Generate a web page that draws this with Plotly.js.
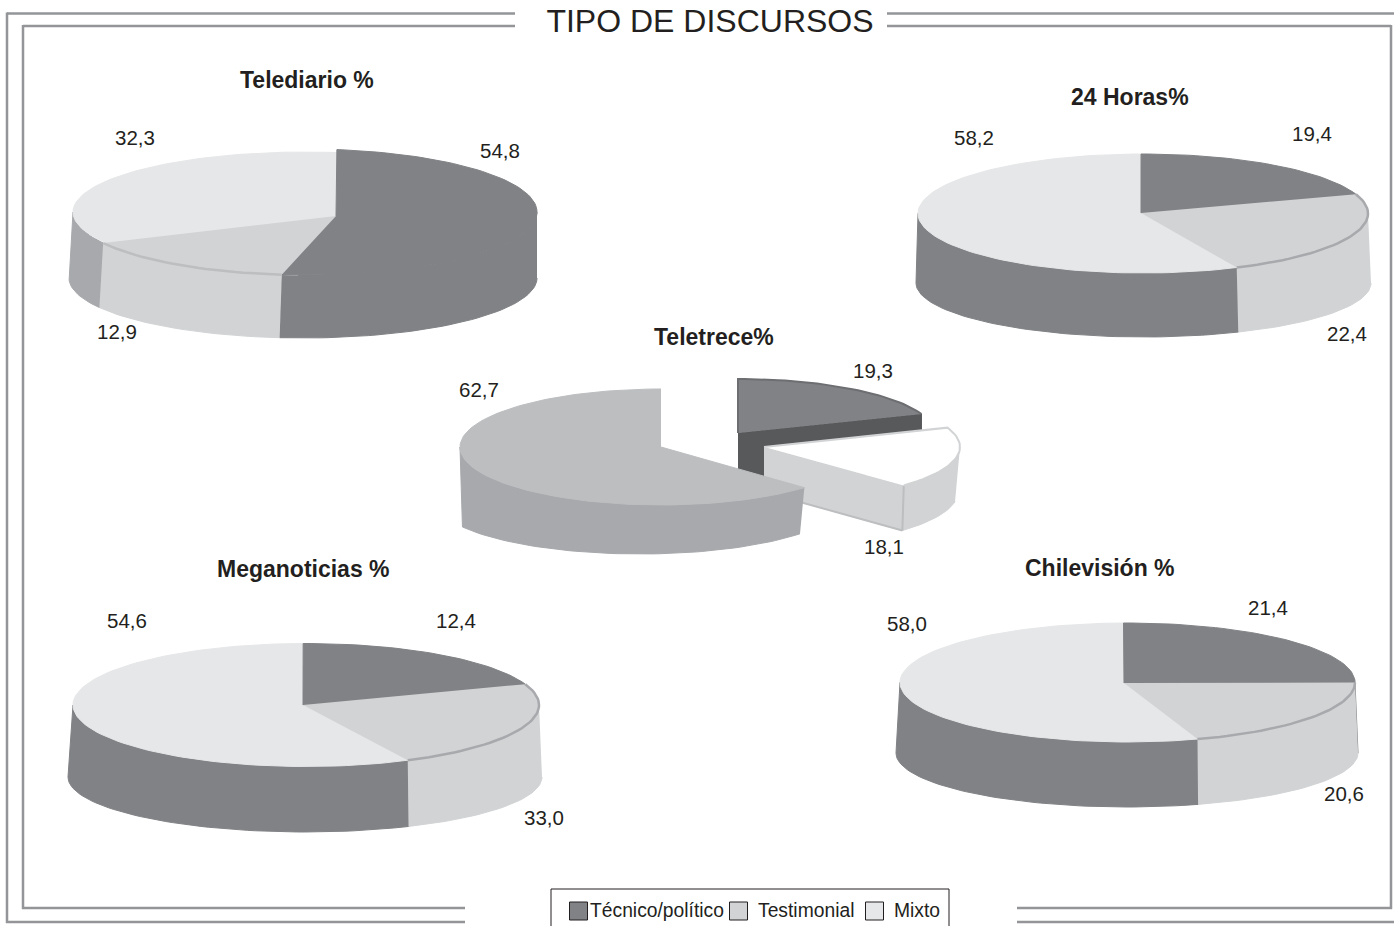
<!DOCTYPE html>
<html>
<head>
<meta charset="utf-8">
<script src="https://cdn.plot.ly/plotly-3.0.1.min.js"></script>
<style>html,body{margin:0;padding:0;background:#fff;overflow:hidden}#chart{width:1394px;height:926px}</style>
</head>
<body>
<div id="chart"></div>
<script>
// ---------- data: printed labels, in the order Técnico/político, Testimonial, Mixto ----------
const categories = ['Técnico/político', 'Testimonial', 'Mixto'];
const telediario   = [54.8, 12.9, 32.3];
const veinticuatro = [19.4, 22.4, 58.2];
const teletrece    = [19.3, 18.1, 62.7];
const meganoticias = [12.4, 33.0, 54.6];
const chilevision  = [21.4, 20.6, 58.0];

// the slices as actually drawn in the picture (they differ from the printed labels)
const telediarioDrawn   = [49.4, 15.2, 35.4];
const veinticuatroDrawn = [19.9, 23.4, 56.7];
const meganoticiasDrawn = [19.7, 23.3, 57.0];
const chilevisionDrawn  = [25.3, 20.0, 54.7];

// ---------- styles and geometry ----------
const C = {dark:'#808285', mid:'#d1d3d4', light:'#e6e7e8', grey:'#a7a9ac', tele:'#bcbec0', deep:'#58595b', rim:'#a7a9ac', ink:'#231f20', frame:'#939598'};
const FONT = '"Liberation Sans", Arial, sans-serif';

const pies = [
  {values:telediarioDrawn, t0:7.9, apex:[336,216], rim:C.tele,
   top:{cx:305,cy:212,rx:232,ry:63}, bottom:{cx:303,cy:278,rx:234,ry:60},
   tops:[C.dark,C.mid,C.light], sides:[C.dark,C.mid,C.grey], topRy:[63,63,60]},
  {values:veinticuatroDrawn, t0:-0.5, apex:[1141,213], rim:C.rim,
   top:{cx:1143,cy:213.5,rx:225,ry:59.5}, bottom:{cx:1143.5,cy:283,rx:227.5,ry:54},
   tops:[C.dark,C.mid,C.light], sides:[C.dark,C.mid,C.dark]},
  {values:meganoticiasDrawn, t0:-0.7, apex:[303,705], rim:C.rim,
   top:{cx:306,cy:705,rx:233,ry:61.5}, bottom:{cx:305,cy:777,rx:237,ry:55},
   tops:[C.dark,C.mid,C.light], sides:[C.dark,C.mid,C.dark]},
  {values:chilevisionDrawn, t0:-1, apex:[1124,683], rim:C.rim,
   top:{cx:1127.5,cy:682.5,rx:227.5,ry:59.5}, bottom:{cx:1127,cy:753,rx:231,ry:54},
   tops:[C.dark,C.mid,C.light], sides:[C.dark,C.mid,C.dark]}
];

const valueLabels = [
  [telediario,   [[500,150],[117,331],[135,137]]],
  [veinticuatro, [[1312,133],[1347,333],[974,137]]],
  [teletrece,    [[873,370],[884,546],[479,389]]],
  [meganoticias, [[456,620],[544,817],[127,620]]],
  [chilevision,  [[1268,607],[1344,793],[907,623]]]
];
const chartTitles = [['Telediario %',307,80],['24 Horas%',1130,97],['Teletrece%',714,337],['Meganoticias %',303,569],['Chilevisión %',1100,568]];

// ---------- helpers ----------
const rad = d => d*Math.PI/180;
function arc(e, a, b, ry){
  const n = Math.max(2, Math.ceil(Math.abs(b-a)/2)), xs=[], ys=[], r = ry||e.ry;
  for(let i=0;i<=n;i++){ const t=rad(a+(b-a)*i/n); xs.push(e.cx+e.rx*Math.sin(t)); ys.push(e.cy-r*Math.cos(t)); }
  return [xs,ys];
}
function poly(xs,ys,fill,line,width){
  return {type:'scatter',mode:'lines',x:xs,y:ys,fill:'toself',fillcolor:fill,hoverinfo:'skip',showlegend:false,
          line:{color:line||fill,width:line?width:1}};
}
function stroke(xs,ys,color,width){
  return {type:'scatter',mode:'lines',x:xs,y:ys,hoverinfo:'skip',showlegend:false,line:{color,width}};
}
function cuts(values,t0){
  const sum = values.reduce((a,b)=>a+b,0); let c=0; const out=[t0];
  values.forEach(v=>{c+=v; out.push(t0+360*c/sum);});
  return out;
}
function sideFace(top,bot,a,b,ba,bb,fill){
  const [x1,y1]=arc(top,a,b), [x2,y2]=arc(bot,bb,ba);
  return poly(x1.concat(x2),y1.concat(y2),fill);
}

const traces=[];
pies.forEach(p=>{
  const k=cuts(p.values,p.t0);
  p.values.forEach((v,i)=>{
    const a=Math.max(k[i],90), b=Math.min(k[i+1],270);
    if(b>a) traces.push(sideFace(p.top,p.bottom,a,b,a,b,p.sides[i]));
  });
  // paint back to front; each wedge runs a little under the next one so no seam shows
  [2,1,0].forEach(i=>{
    const ry=p.topRy?p.topRy[i]:p.top.ry;
    const [x,y]=arc(p.top,i>0?k[i]-4:k[i],k[i+1],ry);
    traces.push(poly([p.apex[0]].concat(x),[p.apex[1]].concat(y),p.tops[i]));
  });
  const [rx,ry]=arc(p.top,k[1],k[2]);
  traces.push(stroke(rx,ry,p.rim,2.5));
});

// Teletrece: an exploded pie, each slice with its own centre
(function(){
  const k=cuts(teletrece,0);
  const darkE={cx:738,cy:433,rx:196,ry:54};
  const [dx,dy]=arc(darkE,k[0],k[1]);
  const ex=dx[dx.length-1], ey=dy[dy.length-1], depth=55;
  traces.push(poly([darkE.cx,ex,ex,darkE.cx],[darkE.cy,ey,ey+depth,darkE.cy+depth],C.deep));
  traces.push(poly([darkE.cx].concat(dx),[darkE.cy].concat(dy),C.dark,'#6d6e71',2));

  const whiteE={cx:764,cy:447,rx:196,ry:55}, whiteB={cx:764,cy:492,rx:194,ry:55};
  traces.push(sideFace(whiteE,whiteB,90,k[2],100,k[2],C.mid));
  const [wx,wy]=arc(whiteE,k[1],k[2]);
  const fx=wx[wx.length-1], fy=wy[wy.length-1];
  const [bx,by]=arc(whiteB,k[2],k[2]+1);
  traces.push(poly([whiteE.cx,fx,bx[0],whiteB.cx],[whiteE.cy,fy,by[0],whiteB.cy],C.mid));
  traces.push(stroke([fx,bx[0]],[fy,by[0]],C.tele,2));
  traces.push(stroke([whiteB.cx,bx[0]],[whiteB.cy,by[0]],C.tele,2));
  traces.push(poly([whiteE.cx].concat(wx),[whiteE.cy].concat(wy),'#ffffff',C.mid,2));

  const greyE={cx:661,cy:447,rx:201,ry:58}, greyB={cx:640,cy:500,rx:205,ry:54};
  traces.push(sideFace(greyE,greyB,k[2],270,128.7,240,C.grey));
  const [gx,gy]=arc(greyE,k[2],k[3]);
  traces.push(poly([greyE.cx].concat(gx),[greyE.cy].concat(gy),C.tele));
})();

// legend built from the categories
const swatchX=[578.5,738.5,874.5], swatchFill=[C.dark,C.mid,C.light], legendTextX=[590,758,894];
categories.forEach((c,i)=>traces.push({type:'scatter',mode:'markers',name:c,x:[swatchX[i]],y:[911],hoverinfo:'skip',showlegend:false,
  marker:{symbol:'square',size:18,color:swatchFill[i],line:{color:C.ink,width:1}}}));

// ---------- text ----------
const annotations=[];
const fmt=v=>v.toFixed(1).replace('.',',');
valueLabels.forEach(([vals,pos])=>vals.forEach((v,i)=>annotations.push(
  {x:pos[i][0],y:pos[i][1],xref:'x',yref:'y',text:fmt(v),showarrow:false,font:{family:FONT,size:20.5,color:C.ink},xanchor:'center',yanchor:'middle'})));
chartTitles.forEach(([t,x,y])=>annotations.push(
  {x,y,xref:'x',yref:'y',text:'<b>'+t+'</b>',showarrow:false,font:{family:FONT,size:23,color:C.ink},xanchor:'center',yanchor:'middle'}));
categories.forEach((c,i)=>annotations.push(
  {x:legendTextX[i],y:910,xref:'x',yref:'y',text:c,showarrow:false,font:{family:FONT,size:19.3,color:C.ink},xanchor:'left',yanchor:'middle',xshift:-2}));

// ---------- frame ----------
const ln=(x0,y0,x1,y1,color,width)=>({type:'line',xref:'x',yref:'y',x0,y0,x1,y1,layer:'below',line:{color,width}});
const FW=2.5;
const shapes=[
  ln(7,13.5,515,13.5,C.frame,FW), ln(887,13.5,1394,13.5,C.frame,FW),
  ln(7,12.5,7,923,C.frame,FW), ln(6,922,465,922,C.frame,FW), ln(1017,922,1394,922,C.frame,FW),
  ln(23,26,515,26,C.frame,FW), ln(887,26,1391,26,C.frame,FW),
  ln(23,25,23,909,C.frame,FW), ln(1391,25,1391,909,C.frame,FW),
  ln(22,908,465,908,C.frame,FW), ln(1017,908,1392,908,C.frame,FW),
  ln(551,889,949,889,C.ink,1), ln(551,889,551,926,C.ink,1), ln(949,889,949,926,C.ink,1)
];

const layout={
  width:1394,height:926,margin:{l:0,r:0,t:0,b:0},paper_bgcolor:'#fff',plot_bgcolor:'#fff',showlegend:false,
  title:{text:'TIPO DE DISCURSOS',font:{family:FONT,size:32,color:C.ink},x:710/1394,xref:'paper',xanchor:'center',y:1-21/926,yref:'paper',yanchor:'middle'},
  xaxis:{range:[0,1394],visible:false,fixedrange:true},
  yaxis:{range:[926,0],visible:false,fixedrange:true},
  shapes,annotations
};
Plotly.newPlot('chart',traces,layout,{displayModeBar:false,staticPlot:true});
</script>
</body>
</html>
